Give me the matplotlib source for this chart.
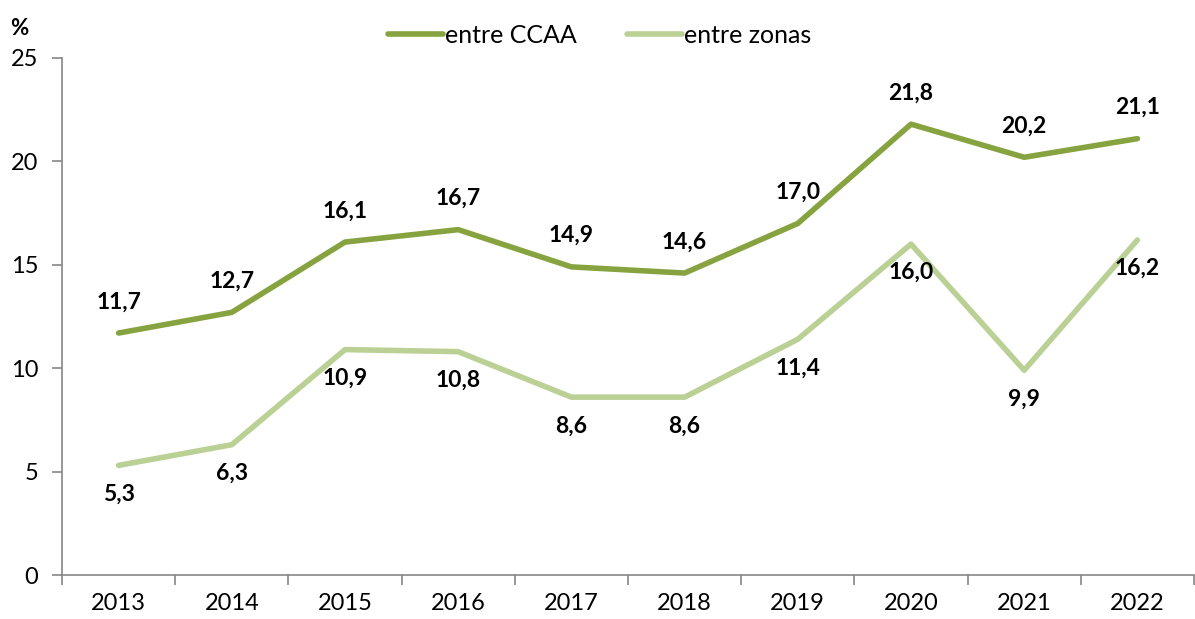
import matplotlib.pyplot as plt
import numpy as np

years = ["2013", "2014", "2015", "2016", "2017", "2018", "2019", "2020", "2021", "2022"]
entre_ccaa = [11.7, 12.7, 16.1, 16.7, 14.9, 14.6, 17.0, 21.8, 20.2, 21.1]
entre_zonas = [5.3, 6.3, 10.9, 10.8, 8.6, 8.6, 11.4, 16.0, 9.9, 16.2]

dark_green = "#86A340"
light_green = "#BBD095"
axis_grey = "#868686"

plt.rcParams['font.family'] = ['Lato', 'DejaVu Sans']

fig = plt.figure(figsize=(11.95, 6.19), dpi=100)
ax = fig.add_axes([62 / 1195, 44 / 619, 1132 / 1195, 517 / 619])

x = np.arange(len(years))
ax.plot(x, entre_ccaa, color=dark_green, lw=4, label="entre CCAA", solid_capstyle='round')
ax.plot(x, entre_zonas, color=light_green, lw=4, label="entre zonas", solid_capstyle='round')

def fmt(v):
    return f"{v:.1f}".replace(".", ",")

for xi, v in zip(x, entre_ccaa):
    ax.annotate(fmt(v), (xi, v), xytext=(0, 15), textcoords='offset points',
                ha='center', va='bottom', fontsize=16.5, fontweight='bold')
for xi, v in zip(x, entre_zonas):
    ax.annotate(fmt(v), (xi, v), xytext=(0, -13), textcoords='offset points',
                ha='center', va='top', fontsize=16.5, fontweight='bold')

ax.set_xlim(-0.5, len(years) - 0.5)
ax.set_ylim(0, 25)
ax.set_yticks([0, 5, 10, 15, 20, 25])
ax.set_xticks(x)
ax.set_xticklabels(years)
ax.set_xticks(np.arange(-0.5, len(years)), minor=True)
ax.tick_params(axis='x', which='major', length=0, labelsize=17, pad=13)
ax.tick_params(axis='x', which='minor', length=7, color=axis_grey, width=1.2)
ax.tick_params(axis='y', length=7, color=axis_grey, width=1.2, labelsize=17, pad=10)

for s in ['top', 'right']:
    ax.spines[s].set_visible(False)
for s in ['left', 'bottom']:
    ax.spines[s].set_color(axis_grey)
    ax.spines[s].set_linewidth(1.2)

ax.text(-0.038, 1.045, "%", transform=ax.transAxes, fontsize=16, fontweight='bold', ha='center')

ax.legend(loc='upper center', bbox_to_anchor=(0.475, 1.11), ncol=2, frameon=False,
          fontsize=18, handlelength=2.2, handletextpad=0.1, columnspacing=2.0)

fig.savefig("out.png", dpi=100)
